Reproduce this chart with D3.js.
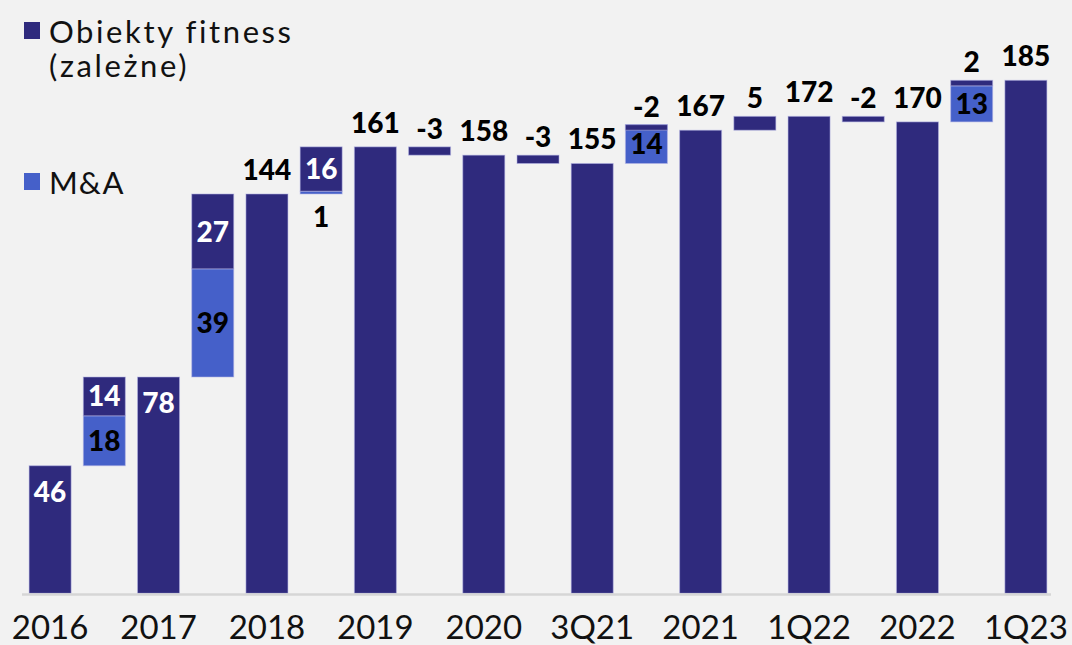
<!DOCTYPE html>
<html>
<head>
<meta charset="utf-8">
<script src="https://cdn.jsdelivr.net/npm/d3@7"></script>
<style>
  html, body { margin: 0; padding: 0; background: #f2f2f2; }
  svg { display: block; font-family: Lato, "Open Sans", sans-serif; }
</style>
</head>
<body>
<svg id="chart" width="1072" height="645"></svg>
<script>
// Reported periods and the number of fitness clubs at each
const categories = ["2016", "2017", "2018", "2019", "2020", "3Q21", "2021", "1Q22", "2022", "1Q23"];
const totals = [46, 78, 144, 161, 158, 155, 167, 172, 170, 185];
// Change between consecutive periods: organic (own clubs) and acquisitions
const organicChange = [14, 27, 16, -3, -3, -2, 5, -2, 2];
const maChange = [18, 39, 1, 0, 0, 14, 0, 0, 13];

const legendLabels = [["Obiekty fitness", "(zależne)"], ["M&A"]];

const DARK = "#2f2a7d";
const BLUE = "#4560c9";

const svg = d3.select("#chart");
const W = 1072, H = 645;

svg.append("rect").attr("width", W).attr("height", H).attr("fill", "#f2f2f2");

// One slot per total, and one slot between each pair of totals for the change
const nSlots = totals.length * 2 - 1;
const x = d3.scaleBand()
  .domain(d3.range(nSlots))
  .range([23, 1053])
  .paddingInner(0.225)
  .paddingOuter(0.1125);

const y = d3.scaleLinear().domain([0, 210]).range([593.3, 593.3 - 210 * 2.773]);

// Build the bar segments
const segments = [];
totals.forEach((v, i) => {
  segments.push({ slot: i * 2, y0: 0, y1: v, value: v, kind: "total", fill: DARK });
});
organicChange.forEach((org, j) => {
  const start = totals[j];
  const ma = maChange[j];
  if (ma !== 0) {
    segments.push({ slot: j * 2 + 1, y0: start, y1: start + ma, value: ma, kind: "ma", fill: BLUE });
  }
  const s = start + ma;
  segments.push({ slot: j * 2 + 1, y0: s, y1: s + org, value: org, kind: "org", fill: DARK });
});

const g = svg.append("g");

g.selectAll("rect.seg")
  .data(segments)
  .join("rect")
  .attr("class", "seg")
  .attr("x", d => x(d.slot))
  .attr("width", x.bandwidth())
  .attr("y", d => y(Math.max(d.y0, d.y1)))
  .attr("height", d => Math.abs(y(d.y0) - y(d.y1)))
  .attr("fill", d => d.fill)
  .attr("stroke", "rgba(180,180,230,0.55)")
  .attr("stroke-width", 1);

// Baseline
svg.append("line")
  .attr("x1", 22).attr("x2", 1051)
  .attr("y1", 594.5).attr("y2", 594.5)
  .attr("stroke", "#d6d6d6").attr("stroke-width", 2.5);

// Category axis: only the totals carry a label
const axis = d3.axisBottom(x)
  .tickValues(categories.map((c, i) => i * 2))
  .tickFormat(i => categories[i / 2])
  .tickSize(0)
  .tickPadding(0);

const ax = svg.append("g").call(axis);
ax.select(".domain").remove();
ax.selectAll("text")
  .attr("y", 639)
  .attr("dy", null)
  .attr("fill", "#111")
  .style("font-size", "33px")
  .style("font-family", "Lato, sans-serif")
  .style("font-weight", 400);

// Value labels
const FS = 28;
const labels = [];
segments.forEach(d => {
  const cx = x(d.slot) + x.bandwidth() / 2;
  const top = y(Math.max(d.y0, d.y1));
  const bot = y(Math.min(d.y0, d.y1));
  const h = bot - top;
  if (d.kind === "total") {
    if (d.value < 100) {
      labels.push({ x: cx, y: top + 36, text: d.value, color: "#fff" });
    } else {
      labels.push({ x: cx, y: top - 14, text: d.value, color: "#000" });
    }
  } else if (h > 30) {
    labels.push({ x: cx, y: (top + bot) / 2 + FS * 0.36, text: d.value,
      color: d.kind === "ma" ? "#000" : "#fff" });
  } else if (d.kind === "ma") {
    labels.push({ x: cx, y: bot + FS + 5, text: d.value, color: "#000" });
  } else {
    // small organic change: label sits above the whole change column
    const j = (d.slot - 1) / 2;
    const colTop = y(Math.max(totals[j], totals[j] + maChange[j], totals[j + 1]));
    labels.push({ x: cx, y: colTop - 8, text: d.value, color: "#000" });
  }
});

svg.append("g").selectAll("text")
  .data(labels)
  .join("text")
  .attr("x", d => d.x)
  .attr("y", d => d.y)
  .attr("text-anchor", "middle")
  .attr("fill", d => d.color)
  .style("font-size", FS + "px")
  .style("font-weight", 900)
  .text(d => d.text);

// Legend
const legend = svg.append("g");
const legendItems = [
  { color: DARK, lines: legendLabels[0], y: 22, spacing: "2.6px" },
  { color: BLUE, lines: legendLabels[1], y: 173, spacing: "1px" }
];
legendItems.forEach(it => {
  legend.append("rect")
    .attr("x", 24).attr("y", it.y).attr("width", 16).attr("height", 17)
    .attr("fill", it.color);
  it.lines.forEach((ln, k) => {
    legend.append("text")
      .attr("x", 49)
      .attr("y", it.y + 21 + k * 34)
      .attr("fill", "#111")
      .style("font-size", "31px")
      .style("letter-spacing", it.spacing)
      .text(ln);
  });
});
</script>
</body>
</html>
